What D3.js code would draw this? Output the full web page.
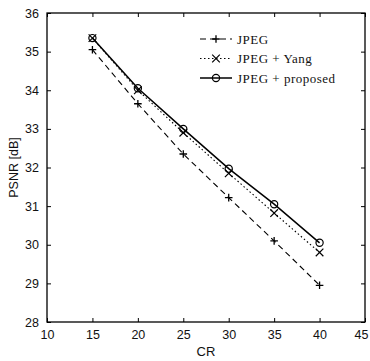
<!DOCTYPE html>
<html>
<head>
<meta charset="utf-8">
<script src="https://cdn.jsdelivr.net/npm/d3@7"></script>
<style>
  body { margin: 0; background: #fff; }
  svg { display: block; }
</style>
</head>
<body>
<div id="chart"></div>
<script>
const cr = [15, 20, 25, 30, 35, 40];
const psnrJpeg = [35.05, 33.65, 32.35, 31.22, 30.1, 28.95];
const psnrYang = [35.35, 34.0, 32.9, 31.85, 30.82, 29.8];
const psnrProposed = [35.35, 34.05, 33.0, 31.97, 31.05, 30.05];
const xTicks = [10, 15, 20, 25, 30, 35, 40, 45];
const yTicks = [28, 29, 30, 31, 32, 33, 34, 35, 36];
const legendLabels = ['JPEG', 'JPEG + Yang', 'JPEG + proposed'];

const W = 370, H = 361;
const margin = { top: 13, right: 5, bottom: 39, left: 47 },
    width = W - margin.left - margin.right,
    height = H - margin.top - margin.bottom;

const svg = d3.select('#chart')
    .append('svg')
    .attr('width', W)
    .attr('height', H);

const g = svg.append('g')
    .attr('transform', `translate(${margin.left},${margin.top})`);

const x = d3.scaleLinear().domain([10, 45]).range([0, width]);
const y = d3.scaleLinear().domain([28, 36]).range([height, 0]);

// frame
g.append('rect')
    .attr('width', width)
    .attr('height', height)
    .attr('fill', 'none')
    .attr('stroke', '#000')
    .attr('stroke-width', 1.3);

const tickFont = '"Liberation Sans", Arial, sans-serif';

// axes, ticks pointing inward
const styleAxis = (sel) => {
    sel.select('.domain').remove();
    sel.selectAll('line').attr('stroke', '#000').attr('stroke-width', 1);
    sel.selectAll('text').attr('fill', '#111')
        .style('font-family', tickFont).style('font-size', '12.5px');
};

const xAxis = g.append('g')
    .attr('transform', `translate(0,${height})`)
    .call(d3.axisBottom(x).tickValues(xTicks).tickSizeInner(-4).tickSizeOuter(0).tickPadding(8))
    .call(styleAxis);
// last label sits against the page edge, as in the scan
xAxis.selectAll('.tick text').filter((d) => d === 45).attr('dx', -4);

g.append('g')
    .call(d3.axisTop(x).tickValues(xTicks).tickSizeInner(-4).tickSizeOuter(0).tickFormat(''))
    .call(styleAxis);
g.append('g')
    .call(d3.axisLeft(y).tickValues(yTicks).tickSizeInner(-4).tickSizeOuter(0).tickPadding(8))
    .call(styleAxis);
g.append('g')
    .attr('transform', `translate(${width},0)`)
    .call(d3.axisRight(y).tickValues(yTicks).tickSizeInner(-4).tickSizeOuter(0).tickFormat(''))
    .call(styleAxis);

// axis labels
g.append('text')
    .attr('x', width / 2)
    .attr('y', height + 34)
    .attr('text-anchor', 'middle')
    .style('font-family', tickFont)
    .style('font-size', '13px')
    .attr('fill', '#111')
    .text('CR');

g.append('text')
    .attr('transform', 'rotate(-90)')
    .attr('x', -height / 2)
    .attr('y', -29)
    .attr('text-anchor', 'middle')
    .style('font-family', tickFont)
    .style('font-size', '12.5px')
    .attr('fill', '#111')
    .text('PSNR [dB]');

const series = [
    { values: psnrJpeg, dash: '6,4', width: 1.1, marker: 'plus' },
    { values: psnrYang, dash: '1.5,2.5', width: 1.1, marker: 'cross' },
    { values: psnrProposed, dash: null, width: 1.5, marker: 'circle' },
];

const line = d3.line().x((d) => x(d[0])).y((d) => y(d[1]));

const drawMarker = (sel, type, cx, cy) => {
    const s = 3.8;
    if (type === 'plus') {
        sel.append('path')
            .attr('d', `M${cx - s},${cy}H${cx + s}M${cx},${cy - s}V${cy + s}`)
            .attr('stroke', '#000').attr('stroke-width', 1.3);
    } else if (type === 'cross') {
        sel.append('path')
            .attr('d', `M${cx - s},${cy - s}L${cx + s},${cy + s}M${cx - s},${cy + s}L${cx + s},${cy - s}`)
            .attr('stroke', '#000').attr('stroke-width', 1.2);
    } else {
        sel.append('circle')
            .attr('cx', cx).attr('cy', cy).attr('r', 3.6)
            .attr('fill', 'none')
            .attr('stroke', '#000').attr('stroke-width', 1.2);
    }
};

series.forEach((s) => {
    const pts = cr.map((c, i) => [c, s.values[i]]);
    g.append('path')
        .datum(pts)
        .attr('d', line)
        .attr('fill', 'none')
        .attr('stroke', '#000')
        .attr('stroke-width', s.width)
        .attr('stroke-dasharray', s.dash);
    const mg = g.append('g');
    pts.forEach((p) => drawMarker(mg, s.marker, x(p[0]), y(p[1])));
});

// legend
const legend = g.append('g').attr('transform', `translate(${200 - margin.left},${39 - margin.top})`);
series.forEach((s, i) => {
    const ly = i * 19.5;
    legend.append('line')
        .attr('x1', 0).attr('x2', 32)
        .attr('y1', ly).attr('y2', ly)
        .attr('stroke', '#000')
        .attr('stroke-width', s.width)
        .attr('stroke-dasharray', s.dash);
    drawMarker(legend, s.marker, 16, ly);
    legend.append('text')
        .attr('x', 37)
        .attr('y', ly + 4.5)
        .style('font-family', '"Liberation Serif", "Times New Roman", serif')
        .style('font-size', '13px')
        .style('letter-spacing', '0.5px')
        .attr('fill', '#111')
        .text(legendLabels[i]);
});
</script>
</body>
</html>
